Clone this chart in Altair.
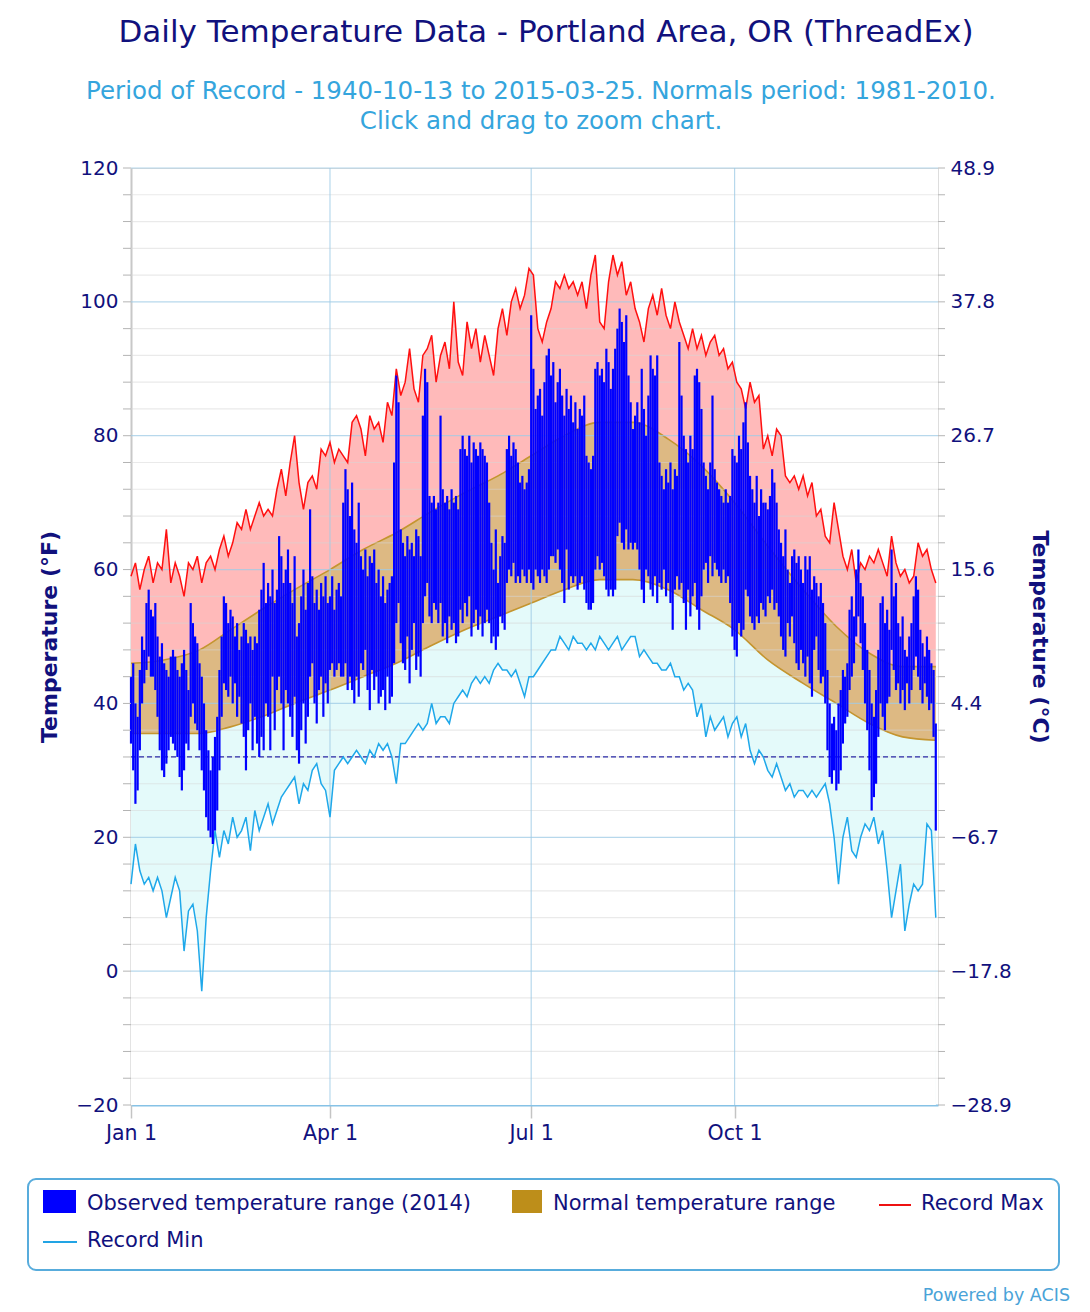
import altair as alt
import pandas as pd

# ---------------- data ----------------
# Observed 2014 daily highs / lows (Jan 1 .. Dec 31)
obs_high = (
    [44, 46, 40, 38, 45, 50, 48, 55, 57, 54, 53, 55, 50, 47, 49, 46, 45, 44, 47, 48,
     47, 45, 44, 46, 48, 45, 42, 55, 52, 50, 49] +                                   # Jan
    [46, 44, 40, 36, 33, 30, 32, 35, 38, 45, 50, 56, 55, 52, 54, 53, 50, 52, 48, 50,
     52, 51, 49, 50, 48, 50, 49, 54] +                                               # Feb
    [57, 61, 55, 58, 56, 60, 55, 57, 65, 62, 58, 60, 63, 58, 55, 62, 50, 52, 56, 60,
     54, 58, 69, 59, 55, 57, 54, 58, 56, 59, 55] +                                   # Mar
    [56, 59, 54, 57, 58, 56, 70, 75, 72, 68, 73, 66, 64, 70, 62, 60, 63, 59, 62, 61,
     63, 58, 60, 56, 59, 55, 57, 58, 59, 76] +                                       # Apr
    [89, 85, 66, 64, 62, 65, 63, 64, 62, 66, 65, 62, 83, 90, 88, 71, 70, 71, 69, 70,
     83, 72, 70, 71, 69, 72, 70, 71, 69, 78, 80] +                                   # May
    [78, 77, 80, 76, 79, 78, 77, 79, 78, 77, 76, 70, 64, 60, 66, 58, 62, 65, 64, 78,
     80, 77, 79, 78, 76, 73, 74, 72, 73, 75] +                                       # Jun
    [98, 90, 84, 86, 87, 83, 88, 92, 93, 89, 91, 85, 88, 90, 86, 83, 87, 84, 86, 82,
     85, 81, 84, 83, 86, 77, 76, 75, 77, 90, 91] +                                   # Jul
    [89, 90, 88, 93, 91, 87, 90, 93, 96, 99, 97, 94, 98, 89, 85, 81, 83, 85, 82, 90,
     84, 80, 86, 92, 90, 89, 92, 76, 74, 72, 75] +                                   # Aug
    [73, 76, 72, 75, 74, 94, 86, 80, 78, 76, 80, 78, 89, 90, 88, 84, 76, 74, 72, 76,
     86, 75, 73, 72, 71, 70, 72, 70, 71, 78] +                                       # Sep
    [77, 76, 80, 78, 82, 85, 79, 74, 72, 70, 74, 68, 72, 70, 70, 69, 71, 75, 73, 70,
     66, 64, 62, 66, 60, 58, 62, 63, 61, 62, 60] +                                   # Oct
    [58, 62, 60, 62, 57, 59, 58, 56, 58, 55, 52, 45, 40, 37, 38, 36, 40, 42, 45, 44,
     46, 54, 56, 53, 60, 63, 58, 56, 52, 48] +                                       # Nov
    [45, 40, 38, 42, 48, 55, 56, 52, 54, 51, 63, 56, 58, 52, 50, 53, 48, 47, 50, 52,
     56, 59, 57, 51, 49, 47, 50, 48, 46, 45, 37]                                     # Dec
)
obs_low = (
    [34, 30, 25, 27, 33, 40, 43, 45, 47, 44, 44, 42, 38, 33, 30, 29, 31, 33, 35, 34,
     33, 32, 29, 27, 30, 34, 33, 38, 40, 37, 36] +
    [33, 30, 27, 23, 21, 20, 19, 21, 24, 30, 38, 43, 42, 41, 44, 40, 43, 38, 41, 37,
     35, 30, 36, 40, 33, 38, 34, 32] +
    [35, 33, 40, 38, 33, 44, 36, 42, 44, 40, 33, 42, 40, 38, 35, 41, 33, 31, 36, 40,
     34, 38, 44, 46, 40, 37, 42, 44, 38, 43, 40] +
    [45, 46, 44, 45, 46, 44, 44, 46, 42, 44, 42, 40, 44, 41, 46, 45, 48, 42, 39, 45,
     42, 44, 40, 41, 42, 39, 44, 40, 41, 46] +
    [52, 55, 49, 46, 45, 50, 43, 48, 52, 45, 47, 44, 52, 56, 58, 53, 52, 55, 54, 52,
     55, 50, 52, 49, 53, 51, 52, 49, 50, 54, 52] +
    [55, 53, 56, 50, 52, 54, 51, 53, 50, 52, 54, 52, 49, 50, 48, 50, 53, 52, 51, 58,
     60, 59, 61, 58, 59, 58, 60, 59, 58, 60] +
    [58, 57, 60, 59, 58, 60, 59, 58, 60, 62, 62, 61, 63, 60, 58, 55, 63, 57, 59, 58,
     59, 57, 58, 59, 57, 55, 54, 54, 55, 60, 62] +
    [60, 61, 59, 57, 56, 57, 56, 57, 65, 67, 64, 63, 66, 63, 64, 63, 64, 63, 60, 57,
     55, 60, 59, 57, 56, 59, 55, 58, 57, 60, 56] +
    [58, 55, 51, 57, 59, 57, 58, 55, 51, 57, 53, 56, 58, 54, 51, 56, 60, 61, 58, 62,
     59, 61, 60, 59, 58, 60, 58, 59, 55, 50] +
    [48, 47, 52, 50, 51, 57, 56, 53, 52, 51, 53, 52, 55, 54, 53, 56, 55, 57, 54, 55,
     53, 50, 48, 47, 52, 50, 53, 49, 46, 45, 48] +
    [46, 44, 47, 43, 41, 48, 50, 45, 43, 44, 40, 33, 29, 28, 30, 27, 28, 30, 34, 37,
     38, 42, 44, 46, 50, 53, 49, 45, 40, 36] +
    [30, 24, 26, 28, 35, 40, 38, 36, 40, 41, 48, 45, 42, 43, 40, 42, 39, 43, 40, 42,
     45, 47, 44, 42, 40, 43, 41, 39, 40, 35, 21]
)

# Record max / min, read every second day (day 0, 2, 4, ... 364)
rec_max = [
    59, 61, 57, 60, 62, 58, 61, 60, 66, 58,
    61, 59, 56, 61, 60, 62, 58, 61, 62, 60,
    63, 65, 62, 64, 67, 66, 69, 66, 68, 70,
    68, 69, 68, 72, 75, 71, 76, 80, 73, 69,
    73, 74, 72, 78, 77, 79, 76, 78, 77, 76,
    82, 83, 81, 77, 83, 81, 82, 79, 85, 83,
    90, 86, 88, 93, 87, 85, 92, 93, 95, 88,
    92, 94, 90, 100, 91, 89, 97, 93, 96, 91,
    95, 92, 89, 96, 99, 95, 100, 102, 99, 101,
    105, 104, 96, 94, 97, 99, 103, 102, 104, 102,
    103, 101, 103, 99, 104, 107, 97, 96, 103, 107,
    104, 106, 101, 103, 99, 97, 94, 99, 101, 98,
    102, 98, 96, 100, 97, 95, 93, 96, 93, 95,
    92, 94, 95, 92, 93, 90, 91, 88, 87, 84,
    88, 85, 86, 78, 80, 77, 81, 80, 74, 73,
    74, 72, 74, 71, 73, 68, 69, 65, 64, 70,
    66, 62, 60, 63, 58, 61, 60, 62, 61, 63,
    61, 59, 65, 61, 59, 60, 58, 59, 64, 62,
    63, 60, 58,
]
rec_min = [
    13, 19, 15, 13, 14, 12, 14, 12, 8, 11,
    14, 12, 3, 9, 10, 6, -3, 8, 15, 21,
    17, 21, 19, 23, 20, 21, 23, 18, 24, 21,
    23, 25, 22, 24, 26, 27, 28, 29, 25, 28,
    27, 30, 31, 28, 27, 23, 30, 31, 32, 31,
    32, 33, 32, 31, 33, 32, 34, 33, 34, 32,
    28, 34, 34, 35, 36, 37, 36, 37, 40, 37,
    38, 38, 37, 40, 41, 42, 41, 43, 44, 43,
    44, 43, 45, 46, 45, 45, 44, 45, 43, 41,
    44, 44, 45, 46, 47, 48, 48, 50, 49, 48,
    50, 49, 49, 48, 49, 48, 50, 49, 48, 49,
    50, 48, 49, 50, 50, 47, 48, 47, 46, 46,
    45, 45, 46, 44, 44, 42, 43, 42, 38, 40,
    35, 38, 36, 37, 38, 35, 37, 38, 35, 37,
    33, 31, 33, 32, 30, 29, 31, 29, 27, 28,
    26, 27, 27, 26, 27, 26, 27, 28, 25, 20,
    13, 20, 23, 18, 17, 20, 22, 21, 23, 19,
    21, 15, 8, 12, 16, 6, 10, 13, 12, 13,
    22, 21, 8,
]

# Normals (1981-2010), read at roughly half-month steps
norm_day = [0, 15, 31, 45, 59, 74, 90, 105, 120, 135, 151, 166, 181, 196, 212,
            227, 243, 258, 273, 288, 304, 319, 334, 349, 364]
norm_high = [46, 46.5, 48, 51, 54, 57, 60, 63, 65.5, 68.5, 71.5, 74, 77, 80, 82,
             82, 79.5, 75.5, 70, 63.5, 57, 51.5, 47.5, 45.5, 45.5]
norm_low = [35.5, 35.5, 35.5, 36.5, 38, 40, 42, 44, 46, 48.5, 51, 53, 55, 57, 58.5,
            58.5, 57, 54, 51, 46.5, 43, 40, 37, 35, 34.5]

month_ticks = [0, 90, 181, 273]
month_labels = ["Jan 1", "Apr 1", "Jul 1", "Oct 1"]
major_vals = [-20, 0, 20, 40, 60, 80, 100, 120]
minor_vals = [-16, -12, -8, -4, 4, 8, 12, 16, 24, 28, 32, 36, 44, 48, 52, 56,
              64, 68, 72, 76, 84, 88, 92, 96, 104, 108, 112, 116]
freezing = [32]

title_text = "Daily Temperature Data - Portland Area, OR (ThreadEx)"
subtitle_lines = ["Period of Record - 1940-10-13 to 2015-03-25. Normals period: 1981-2010.",
                  "Click and drag to zoom chart."]

# ---------------- styling ----------------
FONT = "DejaVu Sans"
NAVY = "#11117d"
SUB = "#35a5dd"
W, H = 807, 937

obs_df = pd.DataFrame({"day": list(range(len(obs_high))), "high": obs_high, "low": obs_low})
rec_df = pd.DataFrame({"day": list(range(0, 2 * len(rec_max), 2)), "rmax": rec_max, "rmin": rec_min})
norm_df = pd.DataFrame({"day": norm_day, "nhigh": norm_high, "nlow": norm_low})

xs = alt.Scale(domain=[0, 365], nice=False, zero=False)
ys = alt.Scale(domain=[-20, 120], nice=False, zero=False)

label_expr = " : ".join(
    f"datum.value == {v} ? '{l}'" for v, l in zip(month_ticks[:-1], month_labels[:-1])
) + f" : '{month_labels[-1]}'"

xaxis = alt.Axis(values=month_ticks, labelExpr=label_expr, title=None, grid=False,
                 tickSize=13, tickColor="#c4c4c4", tickWidth=1.5, labelPadding=5,
                 labelFontSize=20.5, labelColor=NAVY, labelFont=FONT, labelFlush=False,
                 domainColor="#86c2e6", domainWidth=2)
yaxis = alt.Axis(values=major_vals, title=None, grid=False, ticks=False, tickSize=0,
                 labelPadding=13, labelFontSize=20, labelColor=NAVY, labelFont=FONT,
                 domainColor="#c8c8c8", domainWidth=2, orient="left")


def X(f="day"):
    return alt.X(f"{f}:Q", scale=xs, axis=xaxis)


def Y(f):
    return alt.Y(f"{f}:Q", scale=ys, axis=yaxis)


pink = alt.Chart(rec_df).mark_area(color="#ffbaba", opacity=1).encode(
    x=X(), y=Y("rmax"), y2="rmin:Q")
cyan = alt.Chart(norm_df).mark_area(color="#e4fafa", interpolate="monotone").encode(
    x=X(), y=Y("nlow"), y2=alt.datum(-20))
white = alt.Chart(rec_df).mark_area(color="#ffffff").encode(
    x=X(), y=Y("rmin"), y2=alt.datum(-20))
tan = alt.Chart(norm_df).mark_area(color="#ddb983", interpolate="monotone").encode(
    x=X(), y=Y("nhigh"), y2="nlow:Q")
tan_hi = alt.Chart(norm_df).mark_line(color="#c4952f", strokeWidth=1.6, interpolate="monotone").encode(
    x=X(), y=Y("nhigh"))
tan_lo = alt.Chart(norm_df).mark_line(color="#c4952f", strokeWidth=1.6, interpolate="monotone").encode(
    x=X(), y=Y("nlow"))

grid_minor = alt.Chart(pd.DataFrame({"v": minor_vals})).mark_rule(
    color="#d6d6d6", strokeWidth=1.2, opacity=0.5).encode(
    y=Y("v"), x=alt.value(0), x2=alt.value(W))
grid_major = alt.Chart(pd.DataFrame({"v": major_vals[1:]})).mark_rule(
    color="#9fcbe6", strokeWidth=1.2, opacity=0.75).encode(
    y=Y("v"), x=alt.value(0), x2=alt.value(W))
grid_vert = alt.Chart(pd.DataFrame({"day": month_ticks[1:]})).mark_rule(
    color="#9fcbe6", strokeWidth=1.2, opacity=0.75).encode(
    x=X(), y=alt.value(0), y2=alt.value(H))

freeze = alt.Chart(pd.DataFrame({"v": freezing})).mark_rule(
    color="#2a2aa8", strokeWidth=1.3, strokeDash=[5, 3]).encode(
    y=Y("v"), x=alt.value(0), x2=alt.value(W))

rmax_line = alt.Chart(rec_df).mark_line(color="#ff1010", strokeWidth=1.5).encode(
    x=X(), y=Y("rmax"))
rmin_line = alt.Chart(rec_df).mark_line(color="#1fa8ea", strokeWidth=1.5).encode(
    x=X(), y=Y("rmin"))

bars = alt.Chart(obs_df).mark_rule(color="#0000ff", strokeWidth=2.2).encode(
    x=X(), y=Y("low"), y2="high:Q")

all_ticks = sorted(major_vals + minor_vals)
lticks = alt.Chart(pd.DataFrame({"v": all_ticks})).mark_rule(color="#b4b4b4", strokeWidth=1).encode(
    y=Y("v"), x=alt.value(-8), x2=alt.value(0))
rticks = alt.Chart(pd.DataFrame({"v": all_ticks})).mark_rule(color="#b4b4b4", strokeWidth=1).encode(
    y=Y("v"), x=alt.value(W), x2=alt.value(W + 7))


def txt(s, x, y, size, color, align="center", weight="normal", angle=0):
    kw = dict(align=align, baseline="middle", fontSize=size, color=color, font=FONT,
              fontWeight=weight)
    if angle:
        kw["angle"] = angle
    return alt.Chart(pd.DataFrame({"t": [s]})).mark_text(**kw).encode(
        x=alt.value(x), y=alt.value(y), text="t:N")


def box(x1, x2, y1, y2, **kw):
    return alt.Chart(pd.DataFrame({"t": [0]})).mark_rect(**kw).encode(
        x=alt.value(x1), x2=alt.value(x2), y=alt.value(y1), y2=alt.value(y2))


def seg(x1, x2, y, color, width=2):
    return alt.Chart(pd.DataFrame({"t": [0]})).mark_rule(color=color, strokeWidth=width).encode(
        x=alt.value(x1), x2=alt.value(x2), y=alt.value(y))


texts = [
    txt(title_text, 415, -135, 31, NAVY),
    txt(subtitle_lines[0], 410, -76, 24.5, SUB),
    txt(subtitle_lines[1], 410, -46, 24.5, SUB),
    txt("Temperature (°F)", -81, 469, 22, NAVY, weight="bold", angle=270),
    txt("Temperature (°C)", 909, 469, 22, NAVY, weight="bold", angle=90),
    txt("Powered by ACIS", 939, 1128, 17.5, "#4aa3d8", align="right"),
]

legend = [
    box(-103, 928, 1011, 1102, fill="#ffffff", stroke="#58acdc", strokeWidth=2, cornerRadius=8),
    box(-88, -55, 1022, 1045, fill="#0000ff"),
    txt("Observed temperature range (2014)", -44, 1036, 21, NAVY, align="left"),
    box(381, 411, 1022, 1045, fill="#bd8e1a"),
    txt("Normal temperature range", 422, 1036, 21, NAVY, align="left"),
    seg(748, 780, 1037, "#ee1111"),
    txt("Record Max", 790, 1036, 21, NAVY, align="left"),
    seg(-88, -54, 1074, "#22a4e4"),
    txt("Record Min", -44, 1073, 21, NAVY, align="left"),
]

inner = alt.layer(pink, cyan, white, tan, tan_hi, tan_lo, grid_minor, grid_major, grid_vert,
                  freeze, rmax_line, rmin_line, bars, lticks, rticks, *texts, *legend)

right_axis = alt.Chart(pd.DataFrame({"v": major_vals})).mark_point(opacity=0).encode(
    y=alt.Y("v:Q", scale=ys, axis=alt.Axis(
        orient="right", values=major_vals,
        labelExpr="format((datum.value - 32) * 5 / 9, '.1f')",
        title=None, grid=False, ticks=False, tickSize=0, domain=False, labelPadding=12,
        labelFontSize=20, labelColor=NAVY, labelFont=FONT)))

chart = alt.layer(inner, right_axis).resolve_scale(y="independent").properties(
    width=W, height=H,
    padding={"left": 131, "top": 168, "right": 152, "bottom": 207},
    autosize=alt.AutoSizeParams(type="none"),
    background="#ffffff",
).configure_view(stroke="transparent").configure(font=FONT)

chart.save("out.html", embed_options={"renderer": "svg", "actions": False})
